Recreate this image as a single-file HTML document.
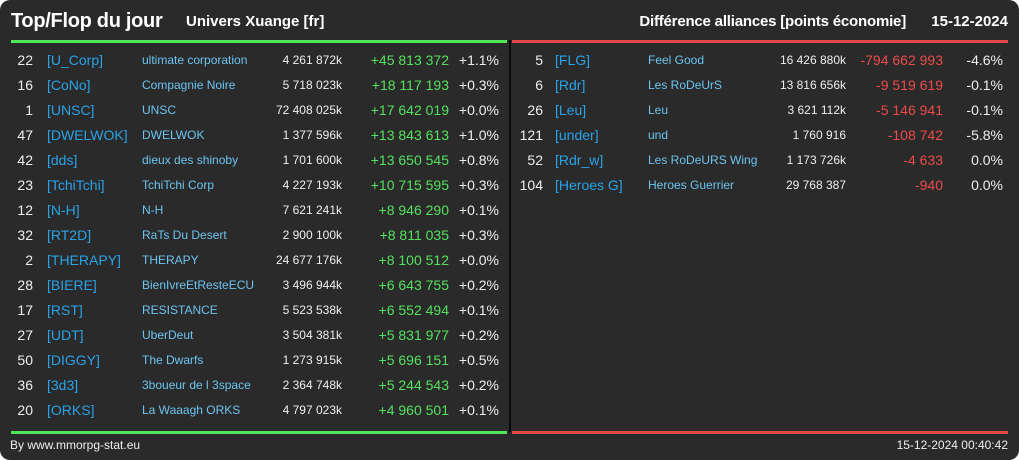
<!DOCTYPE html>
<html><head><meta charset="utf-8"><style>
html,body{margin:0;padding:0;background:#fff;}
#card{position:relative;width:1019px;height:460px;background:#2a2a2a;border-radius:10px;overflow:hidden;font-family:"Liberation Sans",sans-serif;color:#eee;}
.t{position:absolute;white-space:nowrap;line-height:16px;}
.r{text-align:right;}
</style></head><body>
<div id="card">
<div class="t" style="left:11px;top:9px;font-size:20px;font-weight:bold;line-height:24px;color:#fff;letter-spacing:-0.3px;">Top/Flop du jour</div>
<div class="t" style="left:186px;top:12px;font-size:15px;font-weight:bold;line-height:20px;color:#fff;">Univers Xuange [fr]</div>
<div class="t" style="left:505px;width:401px;text-align:right;top:12px;font-size:15px;font-weight:bold;line-height:20px;color:#fff;letter-spacing:-0.2px;">Différence alliances [points économie]</div>
<div class="t" style="left:900px;width:108px;text-align:right;top:12px;font-size:15px;font-weight:bold;line-height:20px;color:#fff;">15-12-2024</div>
<div style="position:absolute;left:11px;top:40px;width:496px;height:3px;background:#4fe65a;"></div>
<div style="position:absolute;left:512px;top:40px;width:496px;height:3px;background:#e8494a;"></div>
<div style="position:absolute;left:11px;top:431px;width:496px;height:3px;background:#4fe65a;"></div>
<div style="position:absolute;left:512px;top:431px;width:496px;height:3px;background:#e8494a;"></div>
<div style="position:absolute;left:509px;top:40px;width:2px;height:392px;background:#0a0a0a;"></div>
<div class="t" style="left:10px;top:437px;font-size:12px;">By www.mmorpg-stat.eu</div>
<div class="t" style="left:880px;top:437px;width:128px;text-align:right;font-size:12px;">15-12-2024 00:40:42</div>
</div>
<script>
const topRanks=[22,16,1,47,42,23,12,32,2,28,17,27,50,36,20];
const topTags=["[U_Corp]","[CoNo]","[UNSC]","[DWELWOK]","[dds]","[TchiTchi]","[N-H]","[RT2D]","[THERAPY]","[BIERE]","[RST]","[UDT]","[DIGGY]","[3d3]","[ORKS]"];
const topNames=["ultimate corporation","Compagnie Noire","UNSC","DWELWOK","dieux des shinoby","TchiTchi Corp","N-H","RaTs Du Desert","THERAPY","BienIvreEtResteECU","RESISTANCE","UberDeut","The Dwarfs","3boueur de l 3space","La Waaagh ORKS"];
const topTotals=["4 261 872k","5 718 023k","72 408 025k","1 377 596k","1 701 600k","4 227 193k","7 621 241k","2 900 100k","24 677 176k","3 496 944k","5 523 538k","3 504 381k","1 273 915k","2 364 748k","4 797 023k"];
const topDiffs=["+45 813 372","+18 117 193","+17 642 019","+13 843 613","+13 650 545","+10 715 595","+8 946 290","+8 811 035","+8 100 512","+6 643 755","+6 552 494","+5 831 977","+5 696 151","+5 244 543","+4 960 501"];
const topPcts=["+1.1%","+0.3%","+0.0%","+1.0%","+0.8%","+0.3%","+0.1%","+0.3%","+0.0%","+0.2%","+0.1%","+0.2%","+0.5%","+0.2%","+0.1%"];
const flopRanks=[5,6,26,121,52,104];
const flopTags=["[FLG]","[Rdr]","[Leu]","[under]","[Rdr_w]","[Heroes G]"];
const flopNames=["Feel Good","Les RoDeUrS","Leu","und","Les RoDeURS Wing","Heroes Guerrier"];
const flopTotals=["16 426 880k","13 816 656k","3 621 112k","1 760 916","1 173 726k","29 768 387"];
const flopDiffs=["-794 662 993","-9 519 619","-5 146 941","-108 742","-4 633","-940"];
const flopPcts=["-4.6%","-0.1%","-0.1%","-5.8%","0.0%","0.0%"];
const card=document.getElementById('card');
function cell(txt,x,y,opts){
  const d=document.createElement('div');
  d.className='t';
  d.textContent=txt;
  d.style.top=(y-8)+'px';
  d.style.fontSize=opts.fs+'px';
  d.style.color=opts.c;
  if(opts.right){d.style.left=(x-200)+'px';d.style.width='200px';d.style.textAlign='right';}
  else d.style.left=x+'px';
  
  
  card.appendChild(d);
}
function table(ranks,tags,names,totals,diffs,pcts,cols,diffColor,prefix){
  for(let i=0;i<ranks.length;i++){
    const y=60+i*25;
    cell(String(ranks[i]),cols[0],y,{fs:14,c:'#eee',right:true,name:prefix+'-rank'});
    cell(tags[i],cols[1],y,{fs:14,c:'#29a3e8',name:prefix+'-tag',inter:true});
    cell(names[i],cols[2],y,{fs:12,c:'#6cc4f0',name:prefix+'-name',inter:true});
    cell(totals[i],cols[3],y,{fs:12,c:'#eee',right:true,name:prefix+'-total'});
    cell(diffs[i],cols[4],y,{fs:14,c:diffColor,right:true,name:prefix+'-diff'});
    cell(pcts[i],cols[5],y,{fs:14,c:'#eee',right:true,name:prefix+'-pct'});
  }
}
table(topRanks,topTags,topNames,topTotals,topDiffs,topPcts,[33,47,142,342,449,499],'#55e05f','top-row');
table(flopRanks,flopTags,flopNames,flopTotals,flopDiffs,flopPcts,[543,555,648,846,943,1003],'#ec4b4b','flop-row');
</script>
</body></html>
